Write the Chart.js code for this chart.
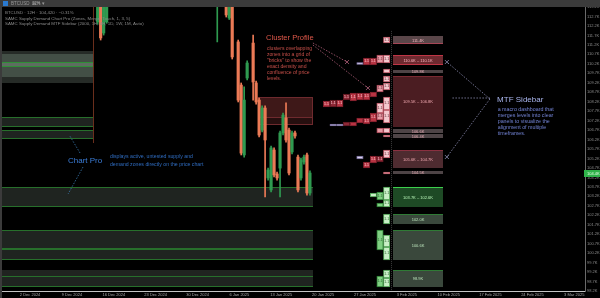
<!DOCTYPE html>
<html><head><meta charset="utf-8">
<script src="https://cdn.jsdelivr.net/npm/chart.js@4.4.1/dist/chart.umd.min.js"></script>
<style>html,body{margin:0;padding:0;background:#000;overflow:hidden}canvas{display:block}</style>
</head><body>
<canvas id="c" width="600" height="298"></canvas>
<script>
// ---------- DATA ----------
// 12H candles (bar index on the time axis)
const candleBar = [32,33,34,35,72,75,76,77,79,80,81,82,84,85,86,87,88,89,90,91,92,93,94,95,96,97,98,99,100,101,102,103];
const openP  = [112370,113300,111790,112370,113300,113300,112580,113300,111320,109050,105370,109420,111260,109160,108260,106680,107840,104160,103530,105630,104370,104680,106530,107320,106680,105530,106530,105260,104160,105000,105370,103370];
const highP  = [113500,113500,113500,113500,113500,113500,113500,113500,111420,109160,108950,110320,111680,109260,108370,107950,107950,104680,105840,105740,104470,106630,107580,108110,106790,106630,106630,105370,105210,105370,105470,104530];
const lowP   = [112250,111420,111680,112300,111320,112630,112500,110420,108160,105370,105260,109320,108260,108050,106320,106580,103160,104050,103420,104210,104050,103160,106420,106050,104320,105420,106260,103420,104050,104890,103260,103260];
const closeP = [113300,111530,113300,113300,113450,112740,113300,110530,108260,105470,108260,110210,109210,108160,106420,107840,106160,104580,105740,104320,104160,106530,107470,106160,104420,106530,106370,103530,105110,105260,103370,104420];

// weekly date labels of the time axis
const dateLabels = ['2 Dec 2024','9 Dec 2024','16 Dec 2024','23 Dec 2024','30 Dec 2024','6 Jan 2025','13 Jan 2025','20 Jan 2025','27 Jan 2025','3 Feb 2025','10 Feb 2025','17 Feb 2025','24 Feb 2025','3 Mar 2025'];
const firstLabelBar = 9.4, barsPerWeek = 14;

// Chart Pro zones: start bar, end bar, high, low, kind
const zoneFrom = [0,0,0,0,0,0,0,0,0,0,85.5,85.5];
const zoneTo   = [30.4,30.4,30.4,30.4,30.4,104,104,104,104,104,104,104];
const zoneHigh = [110842,110684,110263,107368,106684,103684,101421,100421,99316,99000,108421,108421];
const zoneLow  = [109158,109474,110000,106842,106211,102632,100421,99842,99000,98421,106947,107316];
const zoneKind = ['haze','band','core','demand','demand','demand','demand','demand','haze2','demand','supply','supply'];

// Cluster Profile bricks: column (0 = nearest the sidebar), high, low, tone
const brickCol  = [0,0,1,2,3,4,0,0,0,1,2,3,4,5,6,7,8,9,0,0,1,1,2,3,4,5,6,7,8,0,1,0,0,1,2,3,4,0,2,1,0,1,0,0,1,0,0,1,0,0];
const brickHigh = [111579,110632,110632,110474,110474,110237,109895,109526,109158,109053,108684,108632,108632,108632,108579,108263,108263,108211,108421,107737,108105,107579,107579,107316,107316,107105,107105,107000,107000,106789,106789,106421,105632,105316,105316,105000,105316,104474,103368,103421,103684,102842,103000,102263,101421,101158,100526,99000,99316,98895];
const brickLow  = [111263,110211,110211,110105,110105,110132,109684,109211,108789,108684,108421,108263,108263,108211,108263,107895,107895,107895,107737,107053,107579,107211,107105,107000,107053,106895,106895,106895,106895,106526,106526,106316,105211,105000,104947,104684,105158,104368,103158,103000,103000,102632,102632,101737,100368,100526,99842,98421,98895,98421];
const brickTone = ['pink','pink','rose','red','red','mark','pink','pink','pink','rose','red','red','red','red','dark','red','dark','red','pink','pink','pink','rose','red','red','red','red','dark','mark','mark','pink','rose','pink','pink','dark','red','red','mark','pink','lgreen','green','lgreen','green','lgreen','lgreen','green','lgreen','lgreen','green','lgreen','lgreen'];

// MTF Sidebar panels
const panelHigh  = [111632,110632,109842,109526,106737,106474,105632,104526,103684,102263,101421,99316];
const panelLow   = [111211,110105,109684,106842,106526,106263,104684,104368,102632,101737,99842,98421];
const panelKind  = ['sGray','sRed','thin','sDark','thin','thin','sMid','thin','gStrong','gMute','gMute','gMute'];
const panelLabel = ['111.4K','110.6K – 110.1K','109.8K','109.5K – 106.8K','106.6K','106.4K','105.6K – 104.7K','104.5K','103.7K – 102.6K','102.0K','100.6K','98.9K'];

// annotation texts
const clusterTitle = 'Cluster Profile';
const clusterNote = ['clusters overlapping','zones into a grid of','"bricks" to show the','exact density and','confluence of price','levels.'];
const chartProTitle = 'Chart Pro';
const chartProNote = ['displays active, untested supply and','demand zones directly on the price chart'];
const mtfTitle = 'MTF Sidebar';
const mtfNote = ['a macro dashboard that','merges levels into clear','panels to visualize the','alignment of multiple','timeframes.'];
const infoLines = ['BTCUSD · 12H · 104,420 · −0.31%','SAMC Supply Demand Chart Pro (Zones, Merge, Touch, 1, 3, 5)','SAMC Supply Demand MTF Sidebar (2000, 1H, 4H, 1D, 1W, 1M, Auto)'];

// ---------- STYLE ----------
const FONT = '"Liberation Sans", Arial, sans-serif';
const fnt = (s) => `${s}px ${FONT}`;
const UP = '#2f9a50', DOWN = '#eb7a56';
const zoneStyle = {
  haze:  {fill:'#262b27'},
  haze2: {fill:'#202420'},
  band:  {fill:'#434f46'},
  core:  {fill:'#5e6c61', top:'#2f8f36', bottom:'#2f8f36'},
  demand:{fill:'#1f2420', top:'#276f2b', bottom:'#276f2b'},
  supply:{fill:'rgba(110,42,42,0.35)', stroke:'#6e2a2e'}
};
const brickStyle = {
  pink:{fill:'#f4c8ce', stroke:'#cf5c6c'}, rose:{fill:'#e59aa5', stroke:'#b84a5a'},
  red:{fill:'#b83443', stroke:'#8c2230'}, dark:{fill:'#8e2735', stroke:'#6a1a24'},
  mark:{fill:'#d9d3ec', stroke:'#7f72a8'}, lgreen:{fill:'#c8efc6', stroke:'#4fae55'},
  green:{fill:'#7fcf82', stroke:'#2f8a38'}
};
const panelStyle = {
  sGray:{fill:'#5a4649', bottom:'#a64656', text:'#f2b5bd'},
  sRed:{fill:'#6e2a30', top:'#c03545', bottom:'#c03545', text:'#ffb8c0'},
  thin:{fill:'#4e4446', text:'#e0a8b0'},
  sDark:{fill:'#4b1d22', top:'#7a2a32', text:'#f0a8b0'},
  sMid:{fill:'#4e2b30', top:'#8a3040', text:'#f0a8b0'},
  gStrong:{fill:'#1e4a25', top:'#3ccf4c', text:'#b8f5b8'},
  gMute:{fill:'#3a483c', top:'#2f7a35', text:'#b8e0b8'}
};
const profileRightBar = 129.8, profileColBars = 2.24;
const sidebarFrom = 130.8, sidebarTo = 147.5, sidebarLineBar = 130.1;

// ---------- DRAWING PLUGIN ----------
function dotted(ctx, x1, y1, x2, y2, color, head) {
  ctx.save(); ctx.strokeStyle = color; ctx.lineWidth = 0.8; ctx.setLineDash([1.5, 1.5]);
  ctx.beginPath(); ctx.moveTo(x1, y1); ctx.lineTo(x2, y2); ctx.stroke();
  if (head) { ctx.setLineDash([]); ctx.beginPath();
    ctx.moveTo(x2 - 2, y2 - 2); ctx.lineTo(x2 + 2, y2 + 2); ctx.moveTo(x2 - 2, y2 + 2); ctx.lineTo(x2 + 2, y2 - 2); ctx.stroke(); }
  ctx.restore();
}
const scene = {
  id: 'scene',
  beforeDraw(chart) {
    const c = chart.ctx; c.save(); c.fillStyle = '#000'; c.fillRect(0, 0, chart.width, chart.height); c.restore();
  },
  beforeDatasetsDraw(chart) {
    const c = chart.ctx, xs = chart.scales.x, ys = chart.scales.y;
    c.save();
    zoneFrom.forEach((_, i) => {
      const st = zoneStyle[zoneKind[i]];
      const L = Math.round(xs.getPixelForValue(zoneFrom[i])), R = Math.round(xs.getPixelForValue(zoneTo[i]));
      const T = Math.round(ys.getPixelForValue(zoneHigh[i])), B = Math.round(ys.getPixelForValue(zoneLow[i]));
      c.fillStyle = st.fill; c.fillRect(L, T, R - L, B - T);
      if (st.top) { c.fillStyle = st.top; c.fillRect(L, T, R - L, 1); }
      if (st.bottom) { c.fillStyle = st.bottom; c.fillRect(L, B - 1, R - L, 1); }
      if (st.stroke) { c.strokeStyle = st.stroke; c.lineWidth = 1; c.strokeRect(L + 0.5, T + 0.5, R - L - 1, B - T - 1); }
    });
    // session separator at the end of the left zones
    const sx = Math.round(xs.getPixelForValue(zoneTo[0])) + 0.5;
    c.strokeStyle = '#6a2e1c'; c.lineWidth = 1; c.beginPath();
    c.moveTo(sx, chart.chartArea.top); c.lineTo(sx, ys.getPixelForValue(105999)); c.stroke();
    c.restore();
  },
  afterDatasetsDraw(chart) {
    const c = chart.ctx, xs = chart.scales.x, ys = chart.scales.y, ca = chart.chartArea;
    c.save();
    // sidebar dotted guide
    const gx = Math.round(xs.getPixelForValue(sidebarLineBar)) + 0.5;
    c.strokeStyle = '#3c3c3c'; c.setLineDash([1, 1]); c.beginPath();
    c.moveTo(gx, ys.getPixelForValue(111900)); c.lineTo(gx, ca.bottom); c.stroke(); c.setLineDash([]);
    // bricks
    brickCol.forEach((col, i) => {
      const st = brickStyle[brickTone[i]];
      const R = xs.getPixelForValue(profileRightBar - col * profileColBars);
      const L = xs.getPixelForValue(profileRightBar - (col + 1) * profileColBars);
      const T = ys.getPixelForValue(brickHigh[i]), B = ys.getPixelForValue(brickLow[i]);
      c.fillStyle = st.fill; c.fillRect(L + 0.4, T + 0.3, R - L - 0.8, B - T - 0.6);
      c.strokeStyle = st.stroke; c.lineWidth = 0.7; c.strokeRect(L + 0.4, T + 0.3, R - L - 0.8, B - T - 0.6);
      if (B - T > 5 && (brickTone[i] !== 'mark')) {
        c.fillStyle = brickTone[i] === 'red' || brickTone[i] === 'dark' ? '#ffd0d6' : '#5a2a30';
        if (brickTone[i].includes('green')) c.fillStyle = '#2a5a2e';
        c.font = fnt(3.5); c.textAlign = 'center'; c.textBaseline = 'middle';
        c.fillText('1.1', (L + R) / 2, (T + B) / 2);
      }
    });
    // MTF sidebar panels
    const pL = Math.round(xs.getPixelForValue(sidebarFrom)), pR = Math.round(xs.getPixelForValue(sidebarTo));
    panelHigh.forEach((_, i) => {
      const st = panelStyle[panelKind[i]];
      const T = Math.round(ys.getPixelForValue(panelHigh[i])), B = Math.round(ys.getPixelForValue(panelLow[i]));
      c.fillStyle = st.fill; c.fillRect(pL, T, pR - pL, B - T);
      if (st.top) { c.fillStyle = st.top; c.fillRect(pL, T, pR - pL, 1); }
      if (st.bottom) { c.fillStyle = st.bottom; c.fillRect(pL, B - 1, pR - pL, 1); }
      c.fillStyle = st.text; c.font = fnt(4); c.textAlign = 'center'; c.textBaseline = 'middle';
      c.fillText(panelLabel[i], (pL + pR) / 2, (T + B) / 2 + 0.5);
    });
    // annotations
    const X = v => xs.getPixelForValue(v), Y = v => ys.getPixelForValue(v);
    c.textAlign = 'left'; c.textBaseline = 'middle';
    // Cluster Profile
    c.fillStyle = '#e0584a'; c.font = fnt(7.6); c.fillText(clusterTitle, X(88.3), Y(111526));
    c.fillStyle = '#c9504a'; c.font = fnt(5.1);
    clusterNote.forEach((t, k) => c.fillText(t, X(88.6), Y(110947) + k * 6));
    dotted(c, X(104.0), Y(111263), X(115.4), Y(110263), '#b0607a', true);
    dotted(c, X(104.0), Y(111158), X(122.4), Y(108895), '#b0607a', true);
    // Chart Pro
    c.fillStyle = '#3b7dd8'; c.font = fnt(8); c.textAlign = 'center';
    c.fillText(chartProTitle, X(27.8), Y(105053));
    c.textAlign = 'left'; c.fillStyle = '#2f6cc0'; c.font = fnt(5.2);
    chartProNote.forEach((t, k) => c.fillText(t, X(36.1), Y(105263) + k * 8));
    dotted(c, X(26.1), Y(105474), X(22.7), Y(106368), '#3a7ab0', false);
    dotted(c, X(27.1), Y(104737), X(22.1), Y(103316), '#3a7ab0', false);
    // MTF Sidebar
    c.fillStyle = '#aab6ee'; c.font = fnt(8); c.fillText(mtfTitle, X(165.6), Y(108263));
    c.fillStyle = '#7283d4'; c.font = fnt(5.3);
    mtfNote.forEach((t, k) => c.fillText(t, X(165.8), Y(107737) + k * 5.8));
    dotted(c, X(163.2), Y(108316), X(148.8), Y(110263), '#8e8eb4', true);
    dotted(c, X(163.2), Y(108316), X(148.8), Y(105263), '#8e8eb4', true);
    dotted(c, X(163.2), Y(108368), X(150.5), Y(108368), '#8e8eb4', false);
    c.restore();
  },
  afterDraw(chart) {
    const c = chart.ctx, ys = chart.scales.y;
    c.save();
    // toolbar and frame
    c.fillStyle = '#3b3b3b'; c.fillRect(0, 0, chart.width, 7); c.fillRect(0, 0, 2, chart.height);
    c.fillStyle = '#2a7ad0'; c.fillRect(3, 1, 5, 5);
    c.fillStyle = '#9a9a9a'; c.font = fnt(4.5); c.textBaseline = 'middle'; c.textAlign = 'left';
    c.fillText('BTCUSD  12H ▾', 11, 3.8);
    c.fillText('⊞ ✎', 32, 3.8);
    // info lines
    c.font = fnt(4.4);
    c.fillStyle = '#8a8a8a'; c.fillText(infoLines[0], 5, 13);
    c.fillStyle = '#8a8a8a'; c.fillText(infoLines[1], 5, 18.5);
    c.fillStyle = '#8a8a8a'; c.fillText(infoLines[2], 5, 24);
    // last price tag
    const last = closeP[closeP.length - 1], ly = ys.getPixelForValue(last);
    c.fillStyle = '#2fb34a'; c.fillRect(584, Math.round(ly) - 3, 16, 7);
    c.fillStyle = '#e8ffe8'; c.font = fnt(4); c.fillText((last / 1000).toFixed(1) + 'K', 587, ly + 0.5);
    c.restore();
  }
};

// ---------- CHART ----------
const candleColor = candleBar.map((_, i) => closeP[i] >= openP[i] ? UP : DOWN);
new Chart(document.getElementById('c'), {
  type: 'bar',
  data: {
    datasets: [
      { label: 'Body', data: candleBar.map((b, i) => ({ x: b, y: [openP[i], closeP[i]] })),
        backgroundColor: candleColor, barThickness: 2.5, grouped: false, order: 0, clip: 0 },
      { label: 'Wick', data: candleBar.map((b, i) => ({ x: b, y: [lowP[i], highP[i]] })),
        backgroundColor: candleColor, barThickness: 1, grouped: false, order: 1, clip: 0 }
    ]
  },
  options: {
    responsive: false, animation: false, devicePixelRatio: 1,
    layout: { padding: { left: 2, top: 7, right: 0, bottom: 0 } },
    plugins: { legend: { display: false }, tooltip: { enabled: false } },
    scales: {
      x: {
        type: 'linear', min: 0, max: 195, offset: false,
        grid: { display: false, drawTicks: false }, border: { color: '#c4c4c4' },
        afterBuildTicks: s => { s.ticks = dateLabels.map((_, i) => ({ value: firstLabelBar + i * barsPerWeek })); },
        afterFit: s => { s.height = 7; },
        ticks: { autoSkip: false, maxRotation: 0, padding: 1.5, color: '#a8a8a8', font: { family: FONT, size: 4 },
          callback: (v, i) => dateLabels[i] }
      },
      y: {
        position: 'right', min: 98211, max: 113158,
        grid: { display: false, drawTicks: false }, border: { color: '#6a6a6a' },
        afterFit: s => { s.width = 15; },
        ticks: { stepSize: 500, includeBounds: false, autoSkip: false, padding: 2, color: '#8c8c8c',
          font: { family: FONT, size: 4 }, callback: v => (v / 1000).toFixed(1) + 'K' }
      }
    }
  },
  plugins: [scene]
});
</script></body></html>
